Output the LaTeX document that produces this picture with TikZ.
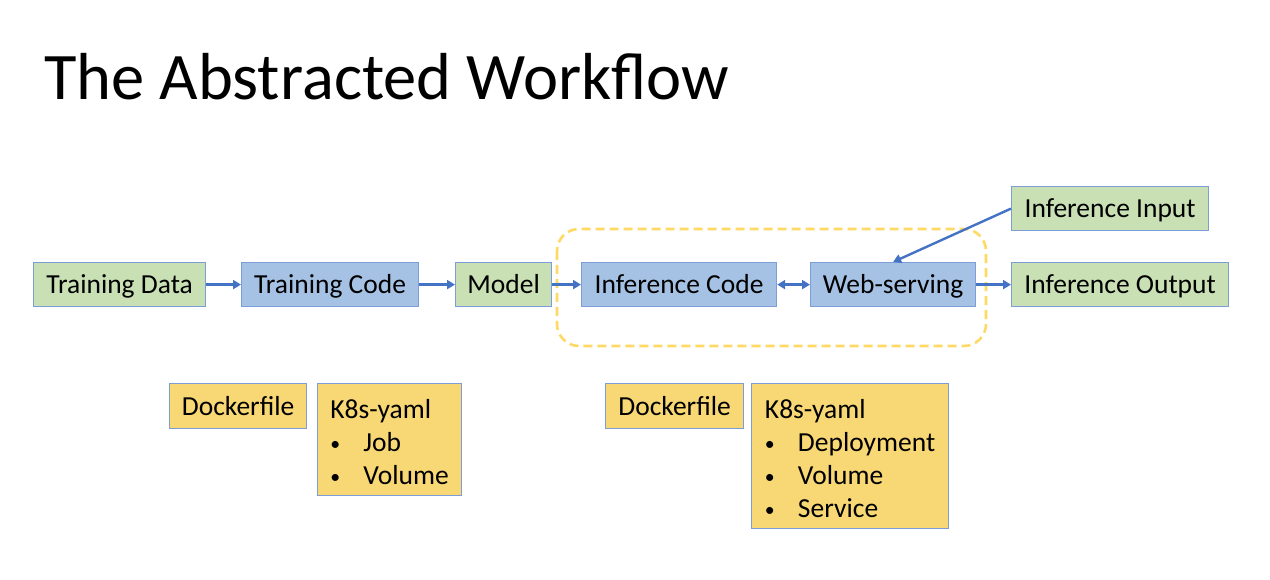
\documentclass[tikz,border=0pt]{standalone}
\usepackage{fontspec}
\setmainfont{Carlito}
\usetikzlibrary{arrows.meta}
\definecolor{gfill}{HTML}{C8E0B4}
\definecolor{bfill}{HTML}{A5C2E5}
\definecolor{bdraw}{HTML}{7C9DD8}
\definecolor{yfill}{HTML}{F8D775}
\definecolor{ydash}{HTML}{FFD966}
\definecolor{arr}{HTML}{4472C4}
\newcommand{\mybul}{\raisebox{1pt}{\scalebox{0.72}{\textbullet}}}
\tikzset{
  box/.style={draw=bdraw, line width=1.2pt, anchor=north west, minimum height=44pt, inner sep=0pt,
    font=\fontsize{27.5}{33}\selectfont, text=black, text height=22pt, text depth=4pt},
  gbox/.style={box, fill=gfill},
  bbox/.style={box, fill=bfill},
  ybox/.style={box, fill=yfill},
  listbox/.style={ybox, align=left, inner xsep=11pt, text height=35pt},
  flow/.style={draw=arr, line width=2.4pt, -{Triangle[length=8pt,width=9pt]}},
  flowboth/.style={draw=arr, line width=2.4pt, {Triangle[length=8pt,width=9pt]}-{Triangle[length=8pt,width=9pt]}},
}
\begin{document}
\begin{tikzpicture}[x=1pt,y=-1pt]
\useasboundingbox (0,0) rectangle (1270,580);
\node[anchor=base west, inner sep=0pt, font=\fontsize{66.5}{70}\selectfont] (title) at (44,100) {The Abstracted Workflow};

\draw[ydash, line width=2.6pt, dash pattern=on 9pt off 5pt, rounded corners=22pt] (557,229) rectangle (986,346);

\node[gbox, minimum width=172pt] (td) at (33,262) {Training Data};
\node[bbox, minimum width=177pt] (tc) at (241,262) {Training Code};
\node[gbox, minimum width=96pt] (md) at (455,262) {Model};
\node[bbox, minimum width=195pt] (ic) at (581,262) {Inference Code};
\node[bbox, minimum width=165pt] (ws) at (810,262) {Web-serving};
\node[gbox, minimum width=197pt] (ii) at (1011,186) {Inference Input};
\node[gbox, minimum width=217pt] (io) at (1011,262) {Inference Output};

\draw[flow] (td) -- (tc);
\draw[flow] (tc) -- (md);
\draw[flow] (md) -- (ic);
\draw[flowboth] (ic) -- (ws);
\draw[flow] (ws) -- (io);
\draw[flow] (ii.west) -- (ws.north);

\node[ybox, minimum width=137pt, minimum height=45pt] (df1) at (169,383) {Dockerfile};
\node[listbox, minimum width=144pt, minimum height=112pt, text depth=77pt] (k1) at (317,383)
  {\begin{tabular}[t]{@{}p{33pt}@{}l@{}}\multicolumn{2}{@{}l@{}}{K8s-yaml}\\ \mybul & Job\\ \mybul & Volume\end{tabular}};
\node[ybox, minimum width=138pt, minimum height=45pt] (df2) at (605,383) {Dockerfile};
\node[listbox, minimum width=197pt, minimum height=145pt, text depth=110pt] (k2) at (751,383)
  {\begin{tabular}[t]{@{}p{33pt}@{}l@{}}\multicolumn{2}{@{}l@{}}{K8s-yaml}\\ \mybul & Deployment\\ \mybul & Volume\\ \mybul & Service\end{tabular}};
\end{tikzpicture}
\end{document}
